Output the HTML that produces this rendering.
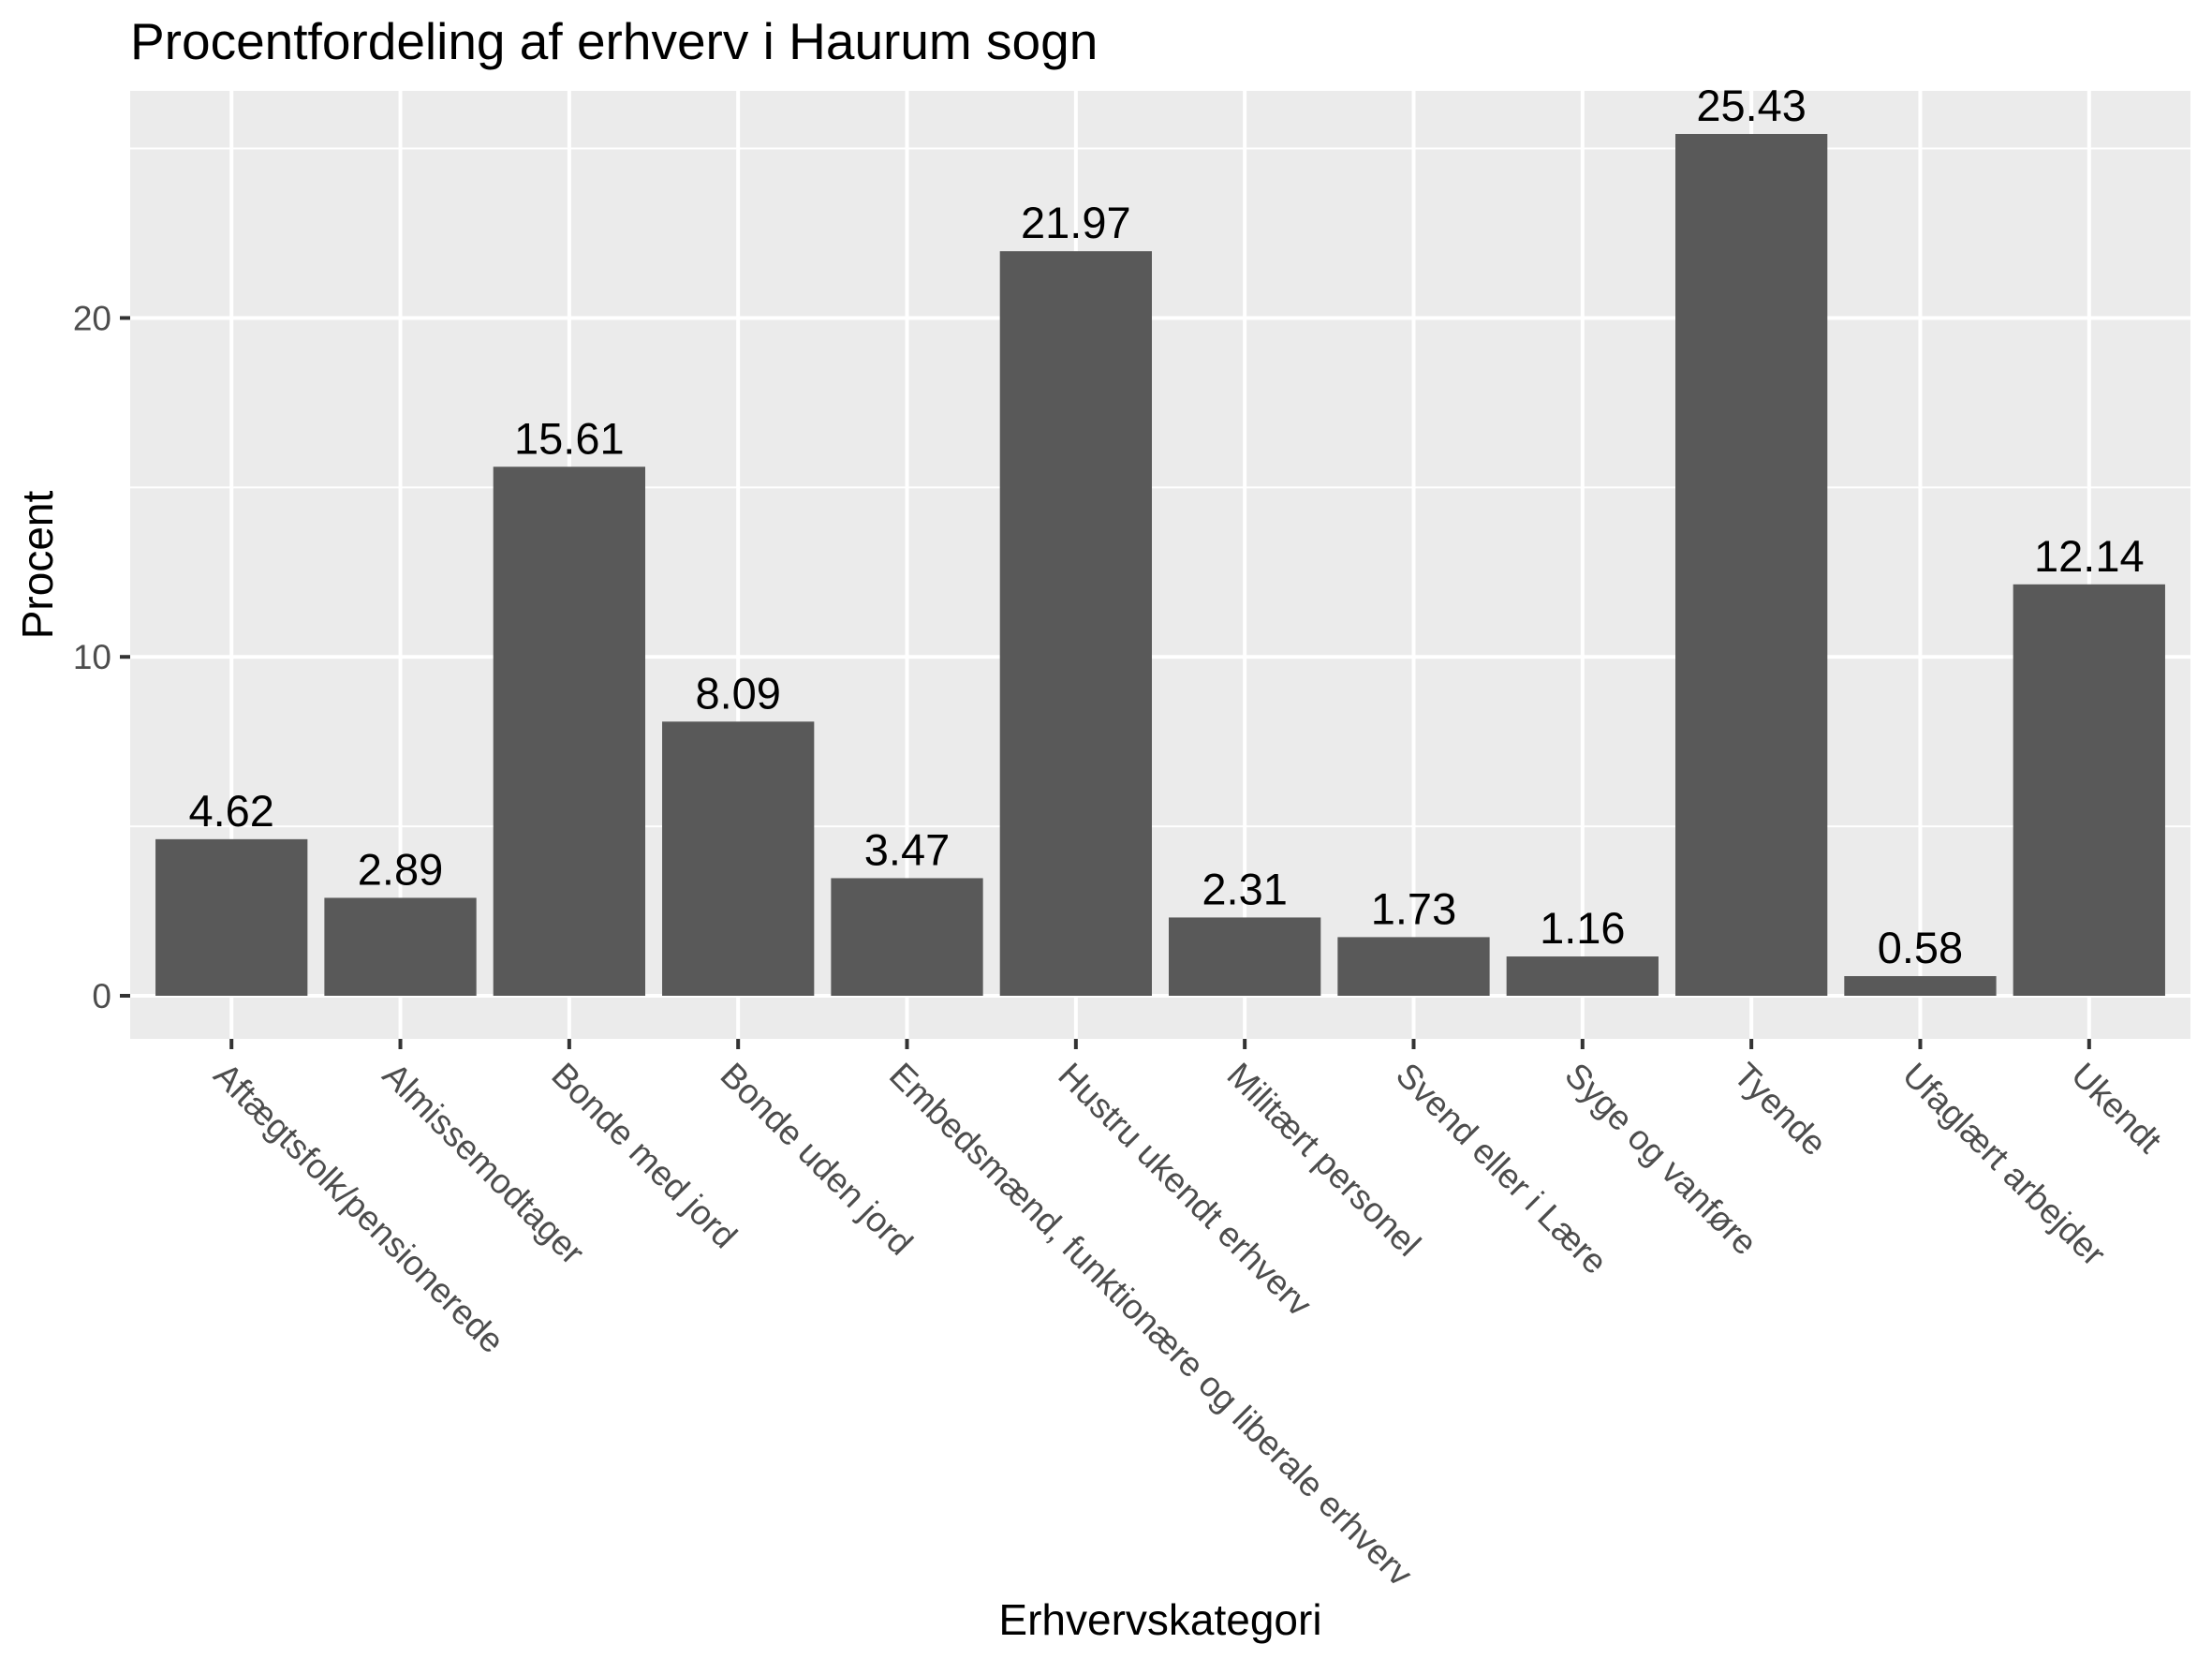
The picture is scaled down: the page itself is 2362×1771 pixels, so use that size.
<!DOCTYPE html>
<html><head><meta charset="utf-8">
<style>
html,body{margin:0;padding:0;background:#fff;}
svg{display:block;font-family:"Liberation Sans",Arial,sans-serif;}
</style></head>
<body>
<svg id="chart" width="2362" height="1771" viewBox="0 0 2362 1771" xmlns="http://www.w3.org/2000/svg">
<rect x="0" y="0" width="2362" height="1771" fill="#fff"/>
<text x="139" y="63" font-size="55" fill="#000">Procentfordeling af erhverv i Haurum sogn</text>
<rect x="139" y="97" width="2200" height="1012" fill="#EBEBEB"/>
<g id="grid"></g>
<g id="bars"></g>
<g id="labels"></g>
<g id="yaxis"></g>
<g id="xaxis"></g>
<text x="1239" y="1745" font-size="46" text-anchor="middle" fill="#000">Erhvervskategori</text>
<text x="0" y="0" font-size="46" text-anchor="middle" fill="#000" transform="translate(56,603) rotate(-90)">Procent</text>
</svg>
<script>
const categories = ["Aftægtsfolk/pensionerede","Almissemodtager","Bonde med jord","Bonde uden jord","Embedsmænd, funktionære og liberale erhverv","Hustru ukendt erhverv","Militært personel","Svend eller i Lære","Syge og vanføre","Tyende","Ufaglært arbejder","Ukendt"];
const values = [4.62, 2.89, 15.61, 8.09, 3.47, 21.97, 2.31, 1.73, 1.16, 25.43, 0.58, 12.14];
const valueLabels = ["4.62","2.89","15.61","8.09","3.47","21.97","2.31","1.73","1.16","25.43","0.58","12.14"];
const yTicks = [0, 10, 20];
const yMinor = [5, 15, 25];

const NS = "http://www.w3.org/2000/svg";
const PL = 139, PR = 2339, PT = 97, PB = 1109;
const maxV = Math.max(...values);
const yLo = -0.05 * maxV, yHi = maxV * 1.05;
function y(v){ return PB - (v - yLo) / (yHi - yLo) * (PB - PT); }
const n = categories.length;
const step = (PR - PL) / (n + 0.2);
function x(i){ return PL + (i + 0.6) * step; }
function mk(tag, attrs, parent){ const e = document.createElementNS(NS, tag); for (const k in attrs) e.setAttribute(k, attrs[k]); parent.appendChild(e); return e; }

const grid = document.getElementById('grid');
yMinor.forEach(t => { if (t > yHi) return;
  const l = mk('line', {x1:PL, x2:PR, y1:y(t), y2:y(t), stroke:'#fff', 'stroke-width':2}, grid);
  
  
});
yTicks.forEach(t => {
  const l = mk('line', {x1:PL, x2:PR, y1:y(t), y2:y(t), stroke:'#fff', 'stroke-width':4}, grid);
  
  
});
categories.forEach((c, i) => {
  const l = mk('line', {x1:x(i), x2:x(i), y1:PT, y2:PB, stroke:'#fff', 'stroke-width':4}, grid);
  
  
});

const bars = document.getElementById('bars');
const labels = document.getElementById('labels');
const bw = step * 0.9;
values.forEach((v, i) => {
  const r = mk('rect', {x:x(i) - bw/2, y:y(v), width:bw, height:y(0) - y(v), fill:'#595959'}, bars);
  
  
  const t = mk('text', {x:x(i), y:y(v) - 14, 'font-size':47, 'text-anchor':'middle', fill:'#000'}, labels);
  t.textContent = valueLabels[i];
  
  
});

const ya = document.getElementById('yaxis');
yTicks.forEach(t => {
  const tk = mk('line', {x1:PL - 11, x2:PL, y1:y(t), y2:y(t), stroke:'#333', 'stroke-width':4}, ya);
  
  
  const tx = mk('text', {x:PL - 20, y:y(t) + 13, 'font-size':37, 'text-anchor':'end', fill:'#4D4D4D'}, ya);
  tx.textContent = t;
  
  
});

const xa = document.getElementById('xaxis');
categories.forEach((c, i) => {
  const tk = mk('line', {x1:x(i), x2:x(i), y1:PB, y2:PB + 11, stroke:'#333', 'stroke-width':4}, xa);
  
  
  const tx = mk('text', {x:0, y:0, 'font-size':37, fill:'#4D4D4D', transform:'translate(' + (x(i) - 21) + ',1150) rotate(45)'}, xa);
  tx.textContent = c;
  
  
});
</script>
</body></html>
